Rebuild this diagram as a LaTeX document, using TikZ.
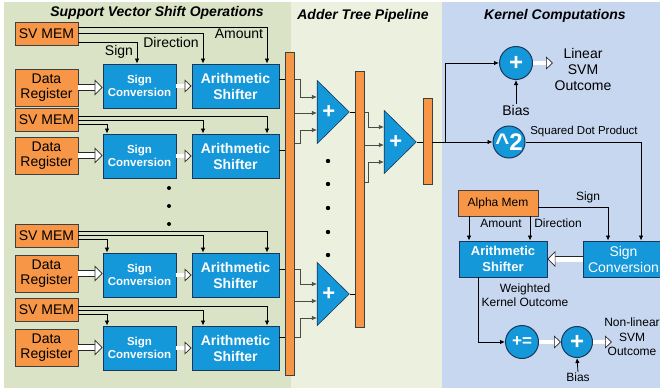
\documentclass[tikz,border=0pt]{standalone}
\usepackage{fontspec}
\setmainfont{Liberation Sans}
\usepackage{tikz}
\usetikzlibrary{arrows.meta, calc, shapes.geometric}

\definecolor{svorange}{RGB}{247,150,70}
\definecolor{svblue}{RGB}{20,152,218}
\definecolor{svnavy}{RGB}{25,55,90}
\definecolor{leftbg}{RGB}{218,227,198}
\definecolor{midbg}{RGB}{235,240,223}
\definecolor{rightbg}{RGB}{199,215,240}
\definecolor{wiregray}{RGB}{75,75,70}

\tikzset{
  memblock/.style={draw=black!75, fill=svorange, line width=0.8pt, align=center, inner sep=1pt, font=\fontsize{14}{15.5}\selectfont},
  svmem/.style={memblock, minimum width=63pt, minimum height=23pt},
  datareg/.style={memblock, minimum width=63pt, minimum height=37pt},
  convblock/.style={draw=svnavy, fill=svblue, line width=0.9pt, text=white, align=center, inner sep=1pt},
  signconv/.style={convblock, minimum width=73pt, minimum height=44pt, font=\bfseries\fontsize{11.5}{13.5}\selectfont},
  shifter/.style={convblock, minimum width=87pt, minimum height=44pt, font=\bfseries\fontsize{14}{16}\selectfont},
  regbar/.style={draw=black!75, fill=svorange, line width=0.6pt, minimum width=9pt, inner sep=0pt},
  adder/.style={isosceles triangle, isosceles triangle stretches, draw=svnavy, fill=svblue, line width=0.6pt,
    minimum width=63pt, minimum height=32pt, inner sep=0pt, text=white, font=\bfseries\fontsize{22}{22}\selectfont},
  opcircle/.style={circle, draw=svnavy, fill=svblue, line width=1pt, text=white, inner sep=0pt,
    minimum size=33pt, font=\bfseries\fontsize{24}{24}\selectfont},
  lbl/.style={font=\fontsize{14}{16}\selectfont, align=center, inner sep=0pt},
  smalllbl/.style={font=\fontsize{12}{14.5}\selectfont, align=center, inner sep=0pt},
  ttl/.style={font=\bfseries\itshape\fontsize{14}{16}\selectfont, inner sep=0pt},
  hollow/.style={draw=black!85, line width=0.7pt, double=white, double distance=5pt,
    -{Triangle[length=8pt, width=16pt, fill=white]}},
  hollowsmall/.style={hollow, double distance=3.5pt, -{Triangle[length=7pt, width=13pt, fill=white]}}
}

\begin{document}
\begin{tikzpicture}[x=1pt, y=-1pt, line width=0.8pt, >={Latex[length=5pt, width=4.5pt]}]
\useasboundingbox (0,0) rectangle (660,388);
% panels
\fill[leftbg] (4,2) rectangle (291,388);
\fill[midbg] (291,2) rectangle (442,388);
\fill[rightbg] (442,2) rectangle (660,388);

\node[ttl] (ttlsv) at (157,13) {Support Vector Shift Operations};
\node[ttl] (ttladd) at (363,16) {Adder Tree Pipeline};
\node[ttl] (ttlker) at (555,16) {Kernel Computations};

% support vector rows
\node[svmem] (sv1) at (46.5,34) {SV MEM};
\node[datareg] (dr1) at (46.5,87.5) {Data\\Register};
\node[signconv] (sc1) at (139.5,86) {Sign\\Conversion};
\node[shifter] (as1) at (235.5,86) {Arithmetic\\Shifter};

\node[svmem] (sv2) at (46.5,120) {SV MEM};
\node[datareg] (dr2) at (46.5,155.5) {Data\\Register};
\node[signconv] (sc2) at (139.5,156) {Sign\\Conversion};
\node[shifter] (as2) at (235.5,156) {Arithmetic\\Shifter};

\node[svmem] (sv3) at (46.5,235.5) {SV MEM};
\node[datareg] (dr3) at (46.5,273.5) {Data\\Register};
\node[signconv] (sc3) at (139.5,275) {Sign\\Conversion};
\node[shifter] (as3) at (235.5,275) {Arithmetic\\Shifter};

\node[svmem] (sv4) at (46.5,310) {SV MEM};
\node[datareg] (dr4) at (46.5,347.5) {Data\\Register};
\node[signconv] (sc4) at (139.5,348) {Sign\\Conversion};
\node[shifter] (as4) at (235.5,348) {Arithmetic\\Shifter};

% control lines
\draw[->] ([yshift=7pt]sv1.east) -| (as1.north -| 267,0);
\draw[->] ([yshift=1pt]sv1.east) -| (as1.north -| 203,0);
\draw[->] ([yshift=-8pt]sv1.east) -| (sc1.north -| 137,0);
\node[lbl] (amt1) at (239,34) {Amount};
\node[lbl] (dir1) at (171,42) {Direction};
\node[lbl] (sgn1) at (119,52) {Sign};

\draw[->] ([yshift=4pt]sv2.east) -| (as2.north -| 267,0);
\draw[->] (sv2.east) -| (as2.north -| 203,0);
\draw[->] ([yshift=-4pt]sv2.east) -| (sc2.north -| 107,0);
\draw[->] ([yshift=4pt]sv3.east) -| (as3.north -| 267,0);
\draw[->] (sv3.east) -| (as3.north -| 203,0);
\draw[->] ([yshift=-4pt]sv3.east) -| (sc3.north -| 107,0);
\draw[->] ([yshift=4pt]sv4.east) -| (as4.north -| 267,0);
\draw[->] (sv4.east) -| (as4.north -| 203,0);
\draw[->] ([yshift=-4pt]sv4.east) -| (sc4.north -| 107,0);

% data paths
\draw[hollow] (dr1.east) -- (dr1.east -| sc1.west);
\draw[hollowsmall] (sc1.east) -- (as1.west);
\draw[hollow] (dr2.east) -- (dr2.east -| sc2.west);
\draw[hollowsmall] (sc2.east) -- (as2.west);
\draw[hollow] (dr3.east) -- (dr3.east -| sc3.west);
\draw[hollowsmall] (sc3.east) -- (as3.west);
\draw[hollow] (dr4.east) -- (dr4.east -| sc4.west);
\draw[hollowsmall] (sc4.east) -- (as4.west);

\fill (169,188) circle (2pt);
\fill (169,206) circle (2pt);
\fill (169,224) circle (2pt);

% adder tree
\node[regbar, minimum height=323pt] (bar1) at (290,213.5) {};
\node[regbar, minimum height=256pt] (bar2) at (360,199) {};
\node[regbar, minimum height=86pt] (bar3) at (427.5,141) {};

\draw (as1.east |- 0,79) -- (bar1.west |- 0,79);
\draw (as2.east |- 0,150) -- (bar1.west |- 0,150);
\draw (as3.east |- 0,269) -- (bar1.west |- 0,269);
\draw (as4.east |- 0,337) -- (bar1.west |- 0,337);

\node[adder, anchor=apex] (add1) at (350,112) {+};
\node[adder, anchor=apex] (add2) at (417,142) {+};
\node[adder, anchor=apex] (add3) at (350,294) {+};

\draw[->, wiregray] (bar1.east |- 0,79) -- (300,79) |- (add1.west |- 0,97);
\draw[->, wiregray] (bar1.east |- 0,113) -- (add1.west |- 0,113);
\draw[->, wiregray] (bar1.east |- 0,143) -- (300,143) |- (add1.west |- 0,130);
\draw[->, wiregray] (bar1.east |- 0,269) -- (300,269) |- (add3.west |- 0,284);
\draw[->, wiregray] (bar1.east |- 0,301) -- (add3.west |- 0,301);
\draw[->, wiregray] (bar1.east |- 0,337) -- (300,337) |- (add3.west |- 0,318);
\draw[->, wiregray] (bar2.east |- 0,112) -- (368,112) |- (add2.west |- 0,127);
\draw[->, wiregray] (bar2.east |- 0,145) -- (add2.west |- 0,145);
\draw[->, wiregray] (bar2.east |- 0,182) -- (368,182) |- (add2.west |- 0,162);

\draw (add1.apex) -- (bar2.west |- add1.apex);
\draw (add3.apex) -- (bar2.west |- add3.apex);
\draw (add2.apex) -- (bar3.west |- add2.apex);

\fill (328,161) circle (2.2pt);
\fill (328,184) circle (2.2pt);
\fill (328,208) circle (2.2pt);
\fill (328,232) circle (2.2pt);
\fill (328,255) circle (2.2pt);

% kernel computations
\coordinate (split) at (445,142);
\node[opcircle] (lin) at (516,63) {+};
\node[opcircle, minimum size=32pt] (sq) at (509,142) {\textasciicircum 2};
\draw (bar3.east |- split) -- (split);
\draw[->] (split) |- (lin.west);
\draw[->] (split) -- (sq.west);
\node[lbl] (bias1) at (516,110) {Bias};
\draw[->] (bias1.north) -- (lin.south);
\coordinate (linout) at (553,63);
\draw[hollowsmall] (lin.east) -- (linout);
\node[lbl] (linlbl) at (583,69) {Linear\\SVM\\Outcome};
\node[smalllbl, font=\fontsize{11.5}{13}\selectfont] (sqlbl) at (584,132) {Squared Dot Product};

\node[memblock, minimum width=80pt, minimum height=26pt, font=\fontsize{12}{14}\selectfont] (alpha) at (498,203) {Alpha Mem};
\node[convblock, minimum width=88pt, minimum height=36pt, font=\bfseries\fontsize{13}{16}\selectfont] (asr) at (503,259) {Arithmetic\\Shifter};
\node[convblock, minimum width=81pt, minimum height=36pt, font=\fontsize{14}{16}\selectfont] (scr) at (623.5,259) {Sign\\Conversion};

\draw[->] (sq.east) -| (scr.north -| 641,0);
\draw[->] (alpha.east |- 0,207) -| (scr.north -| 608,0);
\node[smalllbl] (sgnr) at (588,197) {Sign};
\draw[->] (alpha.south -| 469,0) -- (asr.north -| 469,0);
\draw[->] (alpha.south -| 530,0) -- (asr.north -| 530,0);
\node[smalllbl] (amtr) at (501,223) {Amount};
\node[smalllbl] (dirr) at (558,223) {Direction};
\draw[hollow] (scr.west) -- (asr.east);

\node[opcircle, font=\bfseries\fontsize{17}{17}\selectfont] (acc) at (522,342) {+=};
\node[opcircle, minimum size=31pt] (nonlin) at (577,342) {+};
\draw[->] (asr.south -| 478,0) |- (acc.west);
\node[smalllbl] (wko) at (525,295) {Weighted\\Kernel Outcome};
\draw[hollowsmall] (acc.east) -- (nonlin.west);
\coordinate (nlout) at (612,342);
\draw[hollowsmall] (nonlin.east) -- (nlout);
\node[smalllbl] (nllbl) at (632,337) {Non-linear\\SVM\\Outcome};
\node[smalllbl] (bias2) at (578,377) {Bias};
\draw[->] (bias2.north) -- (nonlin.south);
\end{tikzpicture}
\end{document}
